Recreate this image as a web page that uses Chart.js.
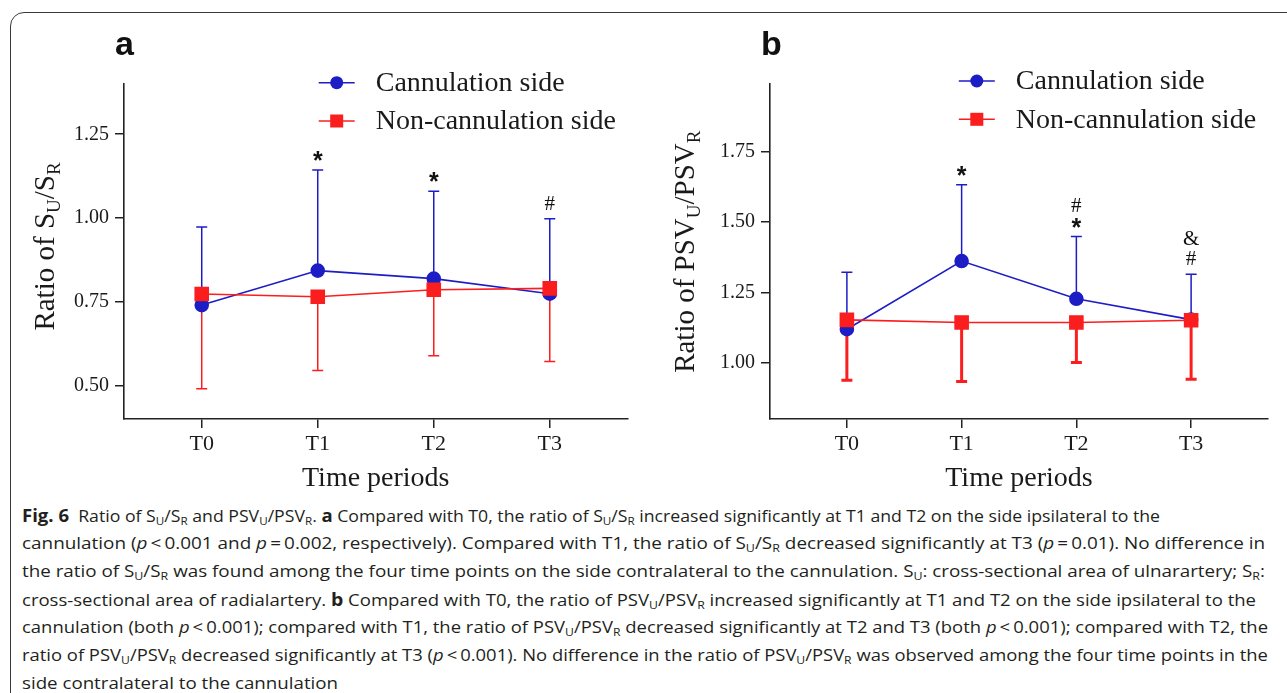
<!DOCTYPE html>
<html>
<head>
<meta charset="utf-8">
<script src="https://cdn.jsdelivr.net/npm/chart.js@4.4.1/dist/chart.umd.min.js"></script>
<style>
body { margin: 0; background: #fff; width: 1287px; height: 693px; overflow: hidden; position: relative; }
#frame { position: absolute; left: 10px; top: 12px; width: 1320px; height: 740px; border: 1.3px solid #3a3a3a; border-radius: 14px; box-sizing: border-box; }
canvas { position: absolute; top: 0; }
#chartA { left: 0; }
#chartB { left: 650px; }
.cap { position: absolute; left: 22px; white-space: nowrap; font-family: "Open Sans", sans-serif; font-size: 17px; line-height: 28px; color: #231f20; transform-origin: 0 50%; }
.cap sub { font-size: 0.66em; vertical-align: -0.28em; line-height: 0; }
.cap b { font-size: 1.05em; }
</style>
</head>
<body>
<div id="frame"></div>
<canvas id="chartA" width="650" height="500"></canvas>
<canvas id="chartB" width="637" height="500"></canvas>
<div id="caption"></div>
<script>
const periods = ['T0', 'T1', 'T2', 'T3']

// panel a: ratio of S_U/S_R (mean and SD)
const cannA = [0.740, 0.843, 0.819, 0.774]
const cannSdA = [0.233, 0.300, 0.261, 0.224]
const nonA = [0.773, 0.765, 0.786, 0.790]
const nonSdA = [0.283, 0.220, 0.197, 0.218]
const ticksA = [0.50, 0.75, 1.00, 1.25]
const marksA = [[], ['*'], ['*'], ['#']]

// panel b: ratio of PSV_U/PSV_R (mean and SD)
const cannB = [1.119, 1.361, 1.227, 1.153]
const cannSdB = [0.202, 0.271, 0.221, 0.161]
const nonB = [1.152, 1.143, 1.143, 1.151]
const nonSdB = [0.214, 0.210, 0.142, 0.210]
const ticksB = [1.00, 1.25, 1.50, 1.75]
const marksB = [[], ['*'], ['*', '#'], ['#', '&']]

const seriesNames = ['Cannulation side', 'Non-cannulation side']
const BLUE = '#1d1dc6'
const RED = '#fb1e1e'
const INK = '#1a1a1a'
const SERIF = '"Liberation Serif", "Times New Roman", serif'

Chart.defaults.font.family = SERIF
Chart.defaults.color = INK

const errorBars = {
    id: 'errorBars',
    beforeDatasetsDraw(chart) {
        const ctx = chart.ctx
        const xs = chart.scales.x, ys = chart.scales.y
        chart.data.datasets.forEach(ds => {
            ctx.save()
            ctx.strokeStyle = ds.borderColor
            ctx.lineWidth = ds.errWidth
            ds.data.forEach((p, i) => {
                const x = xs.getPixelForValue(p.x)
                const y0 = ys.getPixelForValue(p.y)
                const y1 = ys.getPixelForValue(p.y + ds.errDir * ds.sd[i])
                ctx.beginPath()
                ctx.moveTo(x, y0); ctx.lineTo(x, y1)
                ctx.moveTo(x - 5.5, y1); ctx.lineTo(x + 5.5, y1)
                ctx.stroke()
            })
            ctx.restore()
        })
    }
}

function drawMarker(ctx, kind, x, y, color) {
    ctx.fillStyle = color
    if (kind === 'circle') {
        ctx.beginPath(); ctx.arc(x, y, 6.5, 0, Math.PI * 2); ctx.fill()
    } else {
        ctx.fillRect(x - 6.5, y - 6.5, 13, 13)
    }
}

const decor = {
    id: 'decor',
    afterDraw(chart) {
        const ctx = chart.ctx
        const o = chart.options.plugins.decor
        const xs = chart.scales.x, ys = chart.scales.y

        // significance marks above the cannulation-side bars
        const cann = chart.data.datasets[0]
        o.marks.forEach((list, i) => {
            const p = cann.data[i]
            let y = ys.getPixelForValue(p.y + cann.sd[i]) - 9
            const x = xs.getPixelForValue(p.x)
            list.forEach(m => {
                ctx.font = m === '*' ? 'bold 25px "Liberation Sans", Arial, sans-serif' : '21px ' + SERIF
                ctx.fillStyle = '#111'
                ctx.textAlign = 'center'
                ctx.textBaseline = 'alphabetic'
                const mt = ctx.measureText(m)
                const base = y - mt.actualBoundingBoxDescent
                ctx.fillText(m, x, base)
                y = base - mt.actualBoundingBoxAscent - 6
            })
        })

        // legend: line with marker, then the label
        chart.data.datasets.forEach((ds, k) => {
            const ly = o.legendY[k]
            ctx.strokeStyle = ds.borderColor
            ctx.lineWidth = 1.6
            ctx.beginPath(); ctx.moveTo(o.legendX - 18, ly); ctx.lineTo(o.legendX + 18, ly); ctx.stroke()
            drawMarker(ctx, ds.pointStyle, o.legendX, ly, ds.borderColor)
            ctx.font = '28px ' + SERIF
            ctx.fillStyle = INK
            ctx.textAlign = 'left'
            ctx.textBaseline = 'middle'
            ctx.fillText(ds.label, o.legendX + 39, ly + 1)
        })

        // rotated y title with subscripts
        ctx.save()
        ctx.translate(o.titleX, o.titleY)
        ctx.rotate(-Math.PI / 2)
        ctx.textBaseline = 'alphabetic'
        ctx.textAlign = 'left'
        ctx.fillStyle = INK
        const fontOf = sub => (sub ? '19px ' : '29px ') + SERIF
        let total = 0
        o.title.forEach(([t, sub]) => { ctx.font = fontOf(sub); total += ctx.measureText(t).width })
        let tx = -total / 2
        o.title.forEach(([t, sub]) => {
            ctx.font = fontOf(sub)
            ctx.fillText(t, tx, sub ? 6 : 0)
            tx += ctx.measureText(t).width
        })
        ctx.restore()

        // panel letter
        ctx.font = 'bold 34px "Liberation Sans", Arial, sans-serif'
        ctx.fillStyle = '#111'
        ctx.textAlign = 'left'
        ctx.textBaseline = 'alphabetic'
        ctx.fillText(o.letter, o.letterX, 55)
    }
}

function makeChart(id, p) {
    const pts = arr => arr.map((v, i) => ({ x: i, y: v }))
    return new Chart(document.getElementById(id), {
        type: 'line',
        data: {
            datasets: [{
                label: seriesNames[0],
                data: pts(p.cann),
                sd: p.cannSd, errDir: 1, errWidth: 1.5,
                borderColor: BLUE, backgroundColor: BLUE,
                borderWidth: 1.6, pointStyle: 'circle', pointRadius: 6.5,
                order: 1
            }, {
                label: seriesNames[1],
                data: pts(p.non),
                sd: p.nonSd, errDir: -1, errWidth: p.redErrWidth,
                borderColor: RED, backgroundColor: RED,
                borderWidth: 1.6, pointStyle: 'rect', pointRadius: 9.2,
                order: 0
            }]
        },
        options: {
            responsive: false,
            animation: false,
            layout: { padding: { top: 84, right: p.padRight, left: 0, bottom: 0 } },
            plugins: {
                legend: { display: false },
                tooltip: { enabled: false },
                decor: p.decor
            },
            scales: {
                x: {
                    type: 'linear', min: -0.67, max: 3.67,
                    afterBuildTicks: s => { s.ticks = periods.map((_, i) => ({ value: i })) },
                    afterFit: s => { s.height = 81 },
                    ticks: { autoSkip: false, maxRotation: 0, padding: 3, color: INK, font: { size: 22 }, callback: v => periods[v] },
                    grid: { drawOnChartArea: false, tickLength: 9, color: '#222', lineWidth: 1.5 },
                    border: { color: '#222', width: 1.6 },
                    title: { display: true, text: 'Time periods', color: INK, font: { size: 28 }, padding: { top: 0, bottom: 5 } }
                },
                y: {
                    min: p.yMin, max: p.yMax,
                    afterBuildTicks: s => { s.ticks = p.yTicks.map(v => ({ value: v })) },
                    afterFit: s => { s.width = p.axisLeft },
                    ticks: { autoSkip: false, padding: 6, color: INK, font: { size: 20 }, callback: v => v.toFixed(2) },
                    grid: { drawOnChartArea: false, tickLength: 9, color: '#222', lineWidth: 1.5 },
                    border: { color: '#222', width: 1.6 }
                }
            }
        },
        plugins: [errorBars, decor]
    })
}

makeChart('chartA', {
    cann: cannA, cannSd: cannSdA, non: nonA, nonSd: nonSdA,
    yMin: 0.40, yMax: 1.40, yTicks: ticksA, axisLeft: 124, padRight: 22.5, redErrWidth: 1.5,
    decor: {
        marks: marksA, legendX: 336.7, legendY: [82.7, 121], titleX: 54, titleY: 246.5,
        title: [['Ratio of S', false], ['U', true], ['/S', false], ['R', true]],
        letter: 'a', letterX: 115
    }
})

makeChart('chartB', {
    cann: cannB, cannSd: cannSdB, non: nonB, nonSd: nonSdB,
    yMin: 0.80, yMax: 1.99, yTicks: ticksB, axisLeft: 120, padRight: 19, redErrWidth: 3,
    decor: {
        marks: marksB, legendX: 326.8, legendY: [81, 119.3], titleX: 44, titleY: 251.7,
        title: [['Ratio of PSV', false], ['U', true], ['/PSV', false], ['R', true]],
        letter: 'b', letterX: 111
    }
})

// caption below the two panels
const S = 'S<sub>U</sub>/S<sub>R</sub>'
const PSV = 'PSV<sub>U</sub>/PSV<sub>R</sub>'
const P = '<i>p</i>&thinsp;'
const captionLines = [
    '<b>Fig. 6</b>&nbsp; Ratio of ' + S + ' and ' + PSV + '. <b>a</b> Compared with T0, the ratio of ' + S + ' increased significantly at T1 and T2 on the side ipsilateral to the',
    'cannulation (' + P + '&lt;&thinsp;0.001 and ' + P + '=&thinsp;0.002, respectively). Compared with T1, the ratio of ' + S + ' decreased significantly at T3 (' + P + '=&thinsp;0.01). No difference in',
    'the ratio of ' + S + ' was found among the four time points on the side contralateral to the cannulation. S<sub>U</sub>: cross-sectional area of ulnarartery; S<sub>R</sub>:',
    'cross-sectional area of radialartery. <b>b</b> Compared with T0, the ratio of ' + PSV + ' increased significantly at T1 and T2 on the side ipsilateral to the',
    'cannulation (both ' + P + '&lt;&thinsp;0.001); compared with T1, the ratio of ' + PSV + ' decreased significantly at T2 and T3 (both ' + P + '&lt;&thinsp;0.001); compared with T2, the',
    'ratio of ' + PSV + ' decreased significantly at T3 (' + P + '&lt;&thinsp;0.001). No difference in the ratio of ' + PSV + ' was observed among the four time points in the',
    'side contralateral to the cannulation'
]
const captionEnds = [1160, 1265, 1265, 1256, 1268, 1268, 338]
const cap = document.getElementById('caption')
captionLines.forEach((html, i) => {
    const d = document.createElement('div')
    d.className = 'cap'
    d.style.top = (501 + i * 28) + 'px'
    d.innerHTML = html
    cap.appendChild(d)
    const w = d.getBoundingClientRect().width
    d.style.transform = 'scaleX(' + ((captionEnds[i] - 22) / w).toFixed(4) + ')'
})
</script>
</body>
</html>
